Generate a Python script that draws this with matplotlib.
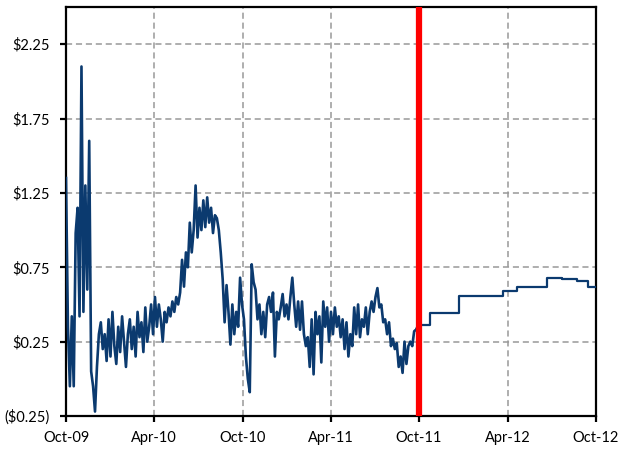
import matplotlib
matplotlib.use('Agg')
import matplotlib.pyplot as plt
import matplotlib.dates as mdates
from matplotlib.ticker import FuncFormatter, FixedLocator
import numpy as np
import pandas as pd

plt.rcParams['font.family'] = ['Lato', 'DejaVu Sans']

# historical daily settle, sampled every 4 calendar days from 1 Oct 2009
hist_start = '2009-10-01'
hist_step = 4
hist_values = [
    1.35, 0.35, -0.05, 0.42, -0.05, 0.98, 1.15, 0.42, 2.10, 0.45,
    1.30, 0.60, 1.60, 0.05, -0.05, -0.22, 0.08, 0.30,
    0.38, 0.20, 0.30, 0.12, 0.40, 0.15, 0.45, 0.22, 0.10, 0.35,
    0.18, 0.42, 0.25, 0.08, 0.30, 0.40, 0.20, 0.35, 0.15, 0.45,
    0.28, 0.38, 0.18, 0.48, 0.25, 0.35,
    0.50, 0.30, 0.55, 0.35, 0.50, 0.40, 0.25, 0.45, 0.38, 0.48,
    0.42, 0.52, 0.45, 0.55, 0.50, 0.58, 0.80, 0.62, 0.85, 0.75,
    1.05, 0.85, 1.00, 1.30, 0.95, 1.15,
    1.00, 1.20, 1.02, 1.22, 1.05, 1.15, 0.98, 1.10, 1.08, 1.00,
    0.85, 0.67, 0.38, 0.63, 0.45, 0.23, 0.50, 0.30, 0.45, 0.35, 0.68,
    0.50, 0.40, 0.15, 0.00, -0.09, 0.77, 0.65, 0.60, 0.40, 0.50,
    0.30, 0.45, 0.28, 0.50, 0.55, 0.45, 0.58, 0.15, 0.45, 0.40,
    0.48, 0.57, 0.42, 0.50, 0.40, 0.55,
    0.68, 0.50, 0.35, 0.52, 0.33, 0.52, 0.30, 0.22, 0.28, 0.08,
    0.40, 0.03, 0.45, 0.30, 0.42, 0.11, 0.52, 0.35, 0.48, 0.25,
    0.45, 0.30, 0.48, 0.35, 0.42,
    0.28, 0.40, 0.20, 0.38, 0.15, 0.30, 0.22, 0.48, 0.30, 0.50,
    0.28, 0.40, 0.35, 0.48, 0.30, 0.45, 0.52, 0.45, 0.55, 0.61,
    0.48, 0.50, 0.38, 0.40, 0.30,
    0.38, 0.22, 0.27, 0.20, 0.24, 0.08, 0.15, 0.04, 0.25, 0.10,
    0.22, 0.25, 0.22, 0.32, 0.33,
]

# forward curve after the cut-off
fwd_dates = ['2011-09-29', '2011-10-24', '2011-12-22', '2012-03-23',
             '2012-04-21', '2012-06-22', '2012-07-23', '2012-08-23',
             '2012-09-15', '2012-10-01']
fwd_values = [0.36, 0.44, 0.56, 0.59, 0.62, 0.68, 0.67, 0.66, 0.62, 0.62]

cutoff = '2011-10-01'

hist_dates = pd.date_range(hist_start, periods=len(hist_values),
                           freq=f'{hist_step}D')
fwd_dates = pd.to_datetime(fwd_dates)

navy = '#0b3a6f'

fig = plt.figure(figsize=(6.18, 4.49), dpi=100)
ax = fig.add_axes([66 / 618, 33 / 449, 530 / 618, 409 / 449])

ax.plot(hist_dates, hist_values, color=navy, lw=1.9, zorder=3)
ax.plot([hist_dates[-1], fwd_dates[0]], [hist_values[-1], fwd_values[0]],
        color=navy, lw=1.9, zorder=3)
ax.plot(fwd_dates, fwd_values, color=navy, lw=1.6, drawstyle='steps-post',
        zorder=3)
ax.axvline(pd.Timestamp(cutoff), color='#ff0000', lw=4.5, zorder=4)

ax.set_xlim(pd.Timestamp('2009-10-01'), pd.Timestamp('2012-10-01'))
ax.set_ylim(-0.25, 2.5)

ax.xaxis.set_major_locator(mdates.MonthLocator(bymonth=[4, 10]))
ax.xaxis.set_major_formatter(mdates.DateFormatter('%b-%y'))
ax.yaxis.set_major_locator(FixedLocator([-0.25, 0.25, 0.75, 1.25, 1.75, 2.25]))


def money(v, pos):
    if v < 0:
        return f'(${-v:.2f})'
    return f'${v:.2f}'


ax.yaxis.set_major_formatter(FuncFormatter(money))

ax.grid(True, color='#999999', ls=(0, (4, 2.5)), lw=1.1)
ax.set_axisbelow(True)
for s in ax.spines.values():
    s.set_color('black')
    s.set_linewidth(1.6)
ax.tick_params(axis='both', direction='out', length=4.5, width=1.6,
               labelsize=10.5, colors='black')
ax.tick_params(axis='x', pad=6)
ax.tick_params(axis='y', pad=7)

fig.savefig('out.png', dpi=100)
